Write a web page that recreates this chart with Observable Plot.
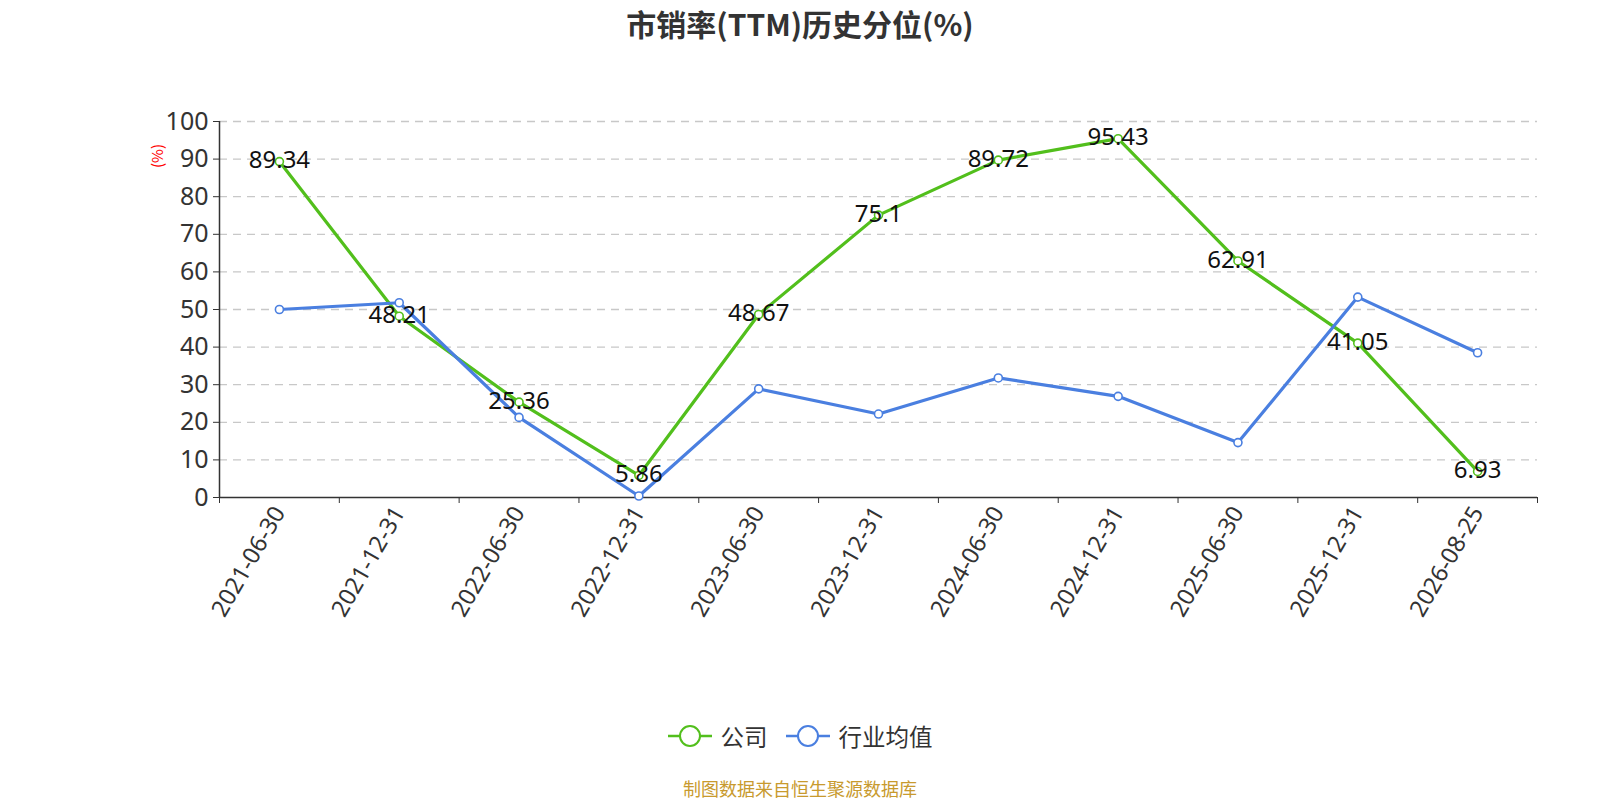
<!DOCTYPE html>
<html><head><meta charset="utf-8">
<script src="https://cdn.jsdelivr.net/npm/d3@7"></script>
<script src="https://cdn.jsdelivr.net/npm/@observablehq/plot@0.6"></script>
<style>
body{margin:0;background:#fff;font-family:"Noto Sans","Noto Sans CJK SC",sans-serif;}
#wrap{position:relative;width:1600px;height:800px;overflow:hidden;background:#fff}
#chart{position:absolute;left:0;top:0;z-index:0}
#title{position:absolute;z-index:2;left:0;width:1600px;top:1px;text-align:center;font-size:30px;font-weight:bold;color:#333;font-family:"Noto Sans CJK SC","Noto Sans",sans-serif;}
#ylab{position:absolute;z-index:2;left:156px;top:156px;transform:translate(-50%,-50%) rotate(-90deg);color:#f00;font-size:15px;font-family:"Noto Sans CJK SC",sans-serif;}
#legend{position:absolute;z-index:2;left:0;width:1600px;top:719px;display:flex;justify-content:center;align-items:center;gap:18px;font-size:23.5px;color:#333;font-family:"Noto Sans CJK SC",sans-serif;}
#legend .item{display:flex;align-items:center;gap:9px}
#footer{position:absolute;z-index:2;left:0;width:1600px;top:775px;text-align:center;font-size:18px;color:#c89a2e;font-family:"Noto Sans CJK SC",sans-serif;}
</style></head><body>
<div id="wrap">
  <div id="chart"></div>
  <div id="title">市销率(TTM)历史分位(%)</div>
  <div id="ylab">(%)</div>
  <div id="legend"></div>
  <div id="footer">制图数据来自恒生聚源数据库</div>
</div>
<script>
const dates = ["2021-06-30","2021-12-31","2022-06-30","2022-12-31","2023-06-30","2023-12-31","2024-06-30","2024-12-31","2025-06-30","2025-12-31","2026-08-25"];
const company = [89.34, 48.21, 25.36, 5.86, 48.67, 75.1, 89.72, 95.43, 62.91, 41.05, 6.93];
const industry = [50.0, 51.8, 21.3, 0.4, 28.9, 22.2, 31.8, 26.9, 14.6, 53.3, 38.5];
const seriesNames = ["公司", "行业均值"];
const colors = ["#52bf1c", "#4a7fe0"];
const yTicks = [0,10,20,30,40,50,60,70,80,90,100];

const comp = dates.map((d,i)=>({i, d, v: company[i]}));
const ind = dates.map((d,i)=>({i, d, v: industry[i]}));
const bounds = d3.range(dates.length + 1);
const centers = dates.map((d,i)=>i+0.5);

const plot = Plot.plot({
  width: 1600, height: 800,
  marginLeft: 219, marginRight: 63, marginTop: 121, marginBottom: 303,
  style: {fontFamily: '"Noto Sans","Noto Sans CJK SC",sans-serif', background: "transparent", overflow: "visible"},
  x: {domain: [0, dates.length], axis: null},
  y: {domain: [0, 100], axis: null},
  marks: [
    Plot.gridY(yTicks.slice(1), {stroke: "#c8c8c8", strokeOpacity: 1, strokeDasharray: "8,6", strokeWidth: 1.3}),
    Plot.axisY(yTicks, {label: null, tickSize: 6, tickPadding: 5, fontSize: 25, fill: "#333", stroke: "#333", tickFormat: d=>String(d)}),
    Plot.ruleX([0], {stroke: "#333", strokeWidth: 1.5}),
    Plot.ruleY([0], {stroke: "#333", strokeWidth: 1.5}),
    Plot.axisX(bounds, {label: null, tickSize: 6, stroke: "#333", tickFormat: () => ""}),
    Plot.axisX(centers, {label: null, tickSize: 0, tickPadding: 11, tickRotate: -60, fontSize: 23.5, fill: "#333", tickFormat: d => dates[Math.round(d-0.5)]}),
    Plot.line(comp, {x: d=>d.i+0.5, y: "v", stroke: colors[0], strokeWidth: 3.2}),
    Plot.line(ind, {x: d=>d.i+0.5, y: "v", stroke: colors[1], strokeWidth: 3.2}),
    Plot.dot(comp, {x: d=>d.i+0.5, y: "v", r: 4, fill: "#fff", stroke: colors[0], strokeWidth: 1.6}),
    Plot.dot(ind, {x: d=>d.i+0.5, y: "v", r: 4, fill: "#fff", stroke: colors[1], strokeWidth: 1.6}),
    Plot.text(comp, {x: d=>d.i+0.5, y: "v", text: d=>String(d.v), fontSize: 24, fill: "#111", dy: -1})
  ]
});
document.getElementById("chart").appendChild(plot);

const leg = document.getElementById("legend");
seriesNames.forEach((n,k)=>{
  const it = document.createElement("div");
  it.className = "item";
  it.innerHTML = `<svg width="44" height="26"><line x1="0" y1="13" x2="44" y2="13" stroke="${colors[k]}" stroke-width="2.5"/><circle cx="22" cy="13" r="10" fill="#fff" stroke="${colors[k]}" stroke-width="2"/></svg><span>${n}</span>`;
  leg.appendChild(it);
});
</script>
</body></html>
